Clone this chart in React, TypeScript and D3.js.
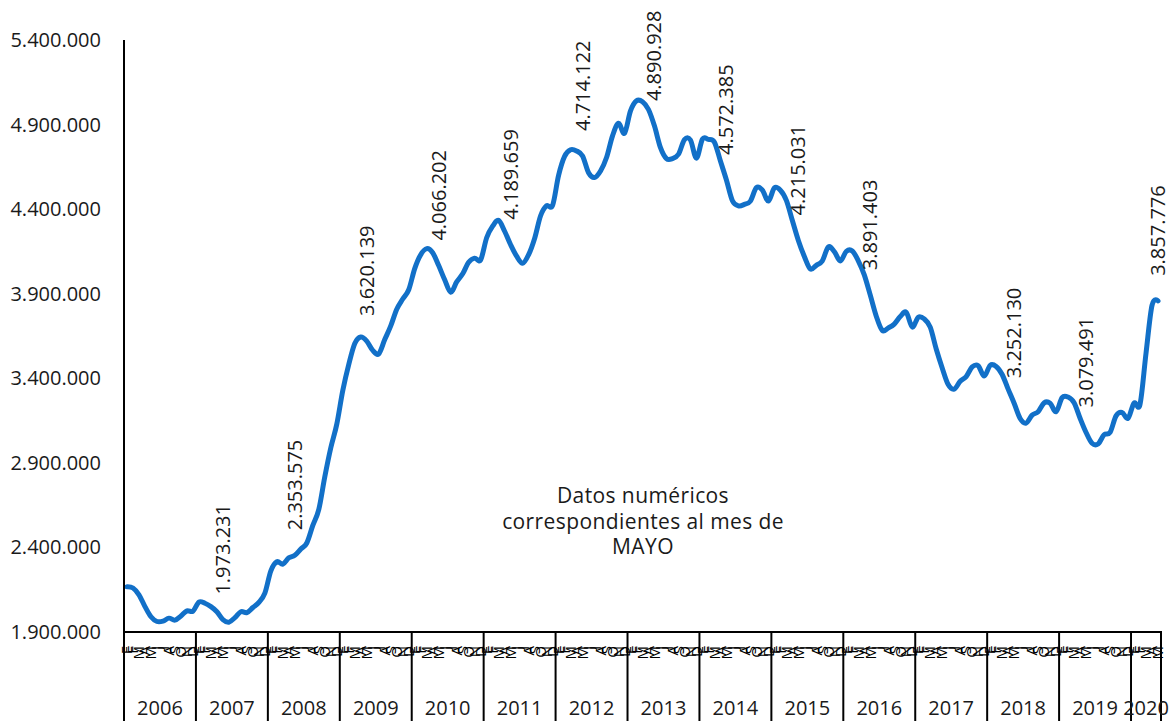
import React from "react";
import * as d3 from "d3";

const monthLabels = ["E", "F", "M", "A", "M", "J", "J", "A", "S", "O", "N", "D"];
const years = [2006, 2007, 2008, 2009, 2010, 2011, 2012, 2013, 2014, 2015, 2016, 2017, 2018, 2019, 2020];
const yTicks = [1900000, 2400000, 2900000, 3400000, 3900000, 4400000, 4900000, 5400000];

const v2006 = [2167000, 2160000, 2120000, 2050000, 1990000, 1962000, 1964000, 1982000, 1970000, 1995000, 2025000, 2022873];
const v2007 = [2077000, 2070000, 2050000, 2020000, 1973231, 1958000, 1985000, 2020000, 2015000, 2045000, 2075000, 2129547];
const v2008 = [2261676, 2315331, 2300975, 2338517, 2353575, 2390403, 2426202, 2530001, 2625368, 2818026, 2989269, 3128963];
const v2009 = [3327801, 3481859, 3605402, 3644041, 3620139, 3564889, 3544906, 3629080, 3709447, 3808353, 3868946, 3923603];
const v2010 = [4048493, 4130625, 4166613, 4142425, 4066202, 3982368, 3908962, 3969661, 4017763, 4085976, 4110294, 4100073];
const v2011 = [4231003, 4299263, 4333669, 4269360, 4189659, 4121801, 4079742, 4130927, 4226744, 4360926, 4420462, 4422359];
const v2012 = [4599829, 4712098, 4750867, 4744235, 4714122, 4615269, 4587455, 4625634, 4705279, 4833521, 4907817, 4848723];
const v2013 = [4980778, 5040222, 5035243, 4989193, 4890928, 4763680, 4698814, 4698783, 4724355, 4811383, 4808908, 4701338];
const v2014 = [4814435, 4812486, 4795866, 4684261, 4572385, 4449701, 4419860, 4427930, 4447650, 4526804, 4512153, 4447711];
const v2015 = [4525691, 4512116, 4451939, 4333016, 4215031, 4120304, 4046276, 4067955, 4094042, 4176369, 4149298, 4093508];
const v2016 = [4150710, 4152986, 4094770, 4011171, 3891403, 3767054, 3683061, 3697496, 3720297, 3764982, 3789823, 3702974];
const v2017 = [3760231, 3750876, 3702317, 3573036, 3461128, 3362811, 3335924, 3382324, 3410182, 3467026, 3474281, 3412781];
const v2018 = [3476528, 3470248, 3422551, 3335868, 3252130, 3162162, 3135021, 3182068, 3202509, 3254703, 3252867, 3202297];
const v2019 = [3285761, 3289040, 3255084, 3163566, 3079491, 3015686, 3011433, 3065804, 3079711, 3177659, 3198184, 3163605];
const v2020 = [3253853, 3246047, 3548312, 3831203, 3857776];

const labeledYears = [2007, 2008, 2009, 2010, 2011, 2012, 2013, 2014, 2015, 2016, 2018, 2019, 2020];
const annotationLines = ["Datos numéricos", "correspondientes al mes de", "MAYO"];

const values = [
  ...v2006, ...v2007, ...v2008, ...v2009, ...v2010, ...v2011, ...v2012, ...v2013,
  ...v2014, ...v2015, ...v2016, ...v2017, ...v2018, ...v2019, ...v2020,
];

const locale = d3.formatLocale({ decimal: ",", thousands: ".", grouping: [3], currency: ["", "€"] });
const fmt = locale.format(",d");

const FONT = "'Open Sans', 'DejaVu Sans', sans-serif";

export default function App() {
  const W = 1171;
  const H = 721;
  const n = values.length;
  const x = d3.scaleLinear().domain([0, n]).range([124, 1161]);
  const y = d3.scaleLinear().domain([1900000, 5400000]).range([632, 40]);

  const line = d3
    .line<number>()
    .x((_, i) => x(i + 0.5))
    .y((d) => y(d))
    .curve(d3.curveCardinal.tension(0));

  const yearBounds = years.map((yr) => {
    const start = (yr - 2006) * 12;
    const end = Math.min(start + 12, n);
    return { yr, start, end };
  });

  return (
    <svg
      width={W}
      height={H}
      style={{ position: "absolute", left: 0, top: 0, background: "#fff" }}
      fontFamily={FONT}
    >
      {/* y tick labels */}
      {yTicks.map((t) => (
        <text key={t} x={101} y={y(t)} dy="0.35em" textAnchor="end" fontSize={20} fill="#1a1a1a">
          {fmt(t)}
        </text>
      ))}

      {/* annotation */}
      {annotationLines.map((s, i) => (
        <text key={s} x={643} y={503 + i * 25.5} textAnchor="middle" fontSize={21} letterSpacing={0.4} fill="#1a1a1a">
          {s}
        </text>
      ))}

      {/* line */}
      <path
        d={line(values) || ""}
        fill="none"
        stroke="#1270c8"
        strokeWidth={5}
        strokeLinecap="round"
        strokeLinejoin="round"
      />

      {/* data labels */}
      {labeledYears.map((yr) => {
        const i = (yr - 2006) * 12 + 4;
        const px = x(i + 0.5);
        const py = y(values[i]) - 25;
        return (
          <text
            key={yr}
            transform={`translate(${px},${py}) rotate(-90)`}
            dy="0.35em"
            fontSize={20}
            fill="#1a1a1a"
          >
            {fmt(values[i])}
          </text>
        );
      })}

      {/* axes */}
      <line x1={124} x2={124} y1={40} y2={721} stroke="#000" strokeWidth={2} />
      <line x1={123} x2={1162} y1={632} y2={632} stroke="#000" strokeWidth={2} />
      {yearBounds.map((b) => (
        <line key={b.yr} x1={x(b.end)} x2={x(b.end)} y1={632} y2={721} stroke="#000" strokeWidth={2} />
      ))}

      {/* month labels */}
      {values.map((_, i) => (
        <text
          key={i}
          transform={`translate(${x(i + 0.5)},${646}) rotate(-90)`}
          dy="0.35em"
          textAnchor="end"
          fontSize={15}
          fill="#000"
        >
          {monthLabels[i % 12]}
        </text>
      ))}

      {/* year labels */}
      {yearBounds.map((b) => (
        <text
          key={b.yr}
          x={(x(b.start) + x(b.end)) / 2}
          y={715}
          textAnchor="middle"
          fontSize={20}
          fill="#1a1a1a"
        >
          {b.yr}
        </text>
      ))}
    </svg>
  );
}
